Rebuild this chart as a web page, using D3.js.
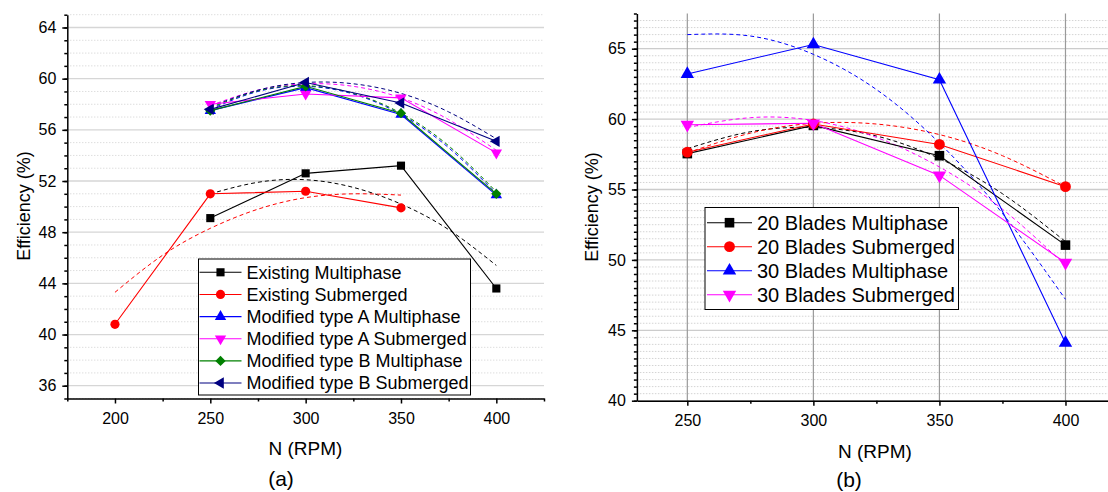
<!DOCTYPE html>
<html>
<head>
<meta charset="utf-8">
<script src="https://cdnjs.cloudflare.com/ajax/libs/d3/7.8.5/d3.min.js"></script>
<style>
  body { margin: 0; background: #fff; }
  svg { display: block; font-family: "Liberation Sans", Arial, sans-serif; }
</style>
</head>
<body>
<svg id="chart" width="1108" height="492"></svg>
<script>
// ---- data, panel (a) ----
var rpmA = [250, 300, 350, 400];
var rpmExistSub = [200, 250, 300, 350];
var existingMulti = [49.1, 52.6, 53.2, 43.6];
var existingSub = [40.8, 51.0, 51.2, 49.9];
var modAMulti = [57.5, 59.3, 57.2, 50.9];
var modASub = [58.0, 58.8, 58.5, 54.2];
var modBMulti = [57.5, 59.4, 57.3, 51.0];
var modBSub = [57.6, 59.7, 58.1, 55.1];

// dashed trend curves
var fitRpm = [250, 275, 300, 325, 350, 375, 400];
var fitRpmSub = [200, 225, 250, 275, 300, 325, 350];
var fitExistMulti = [51.0, 51.9, 52.1, 51.5, 50.2, 48.2, 45.4];
var fitExistSub = [43.3, 46.2, 48.3, 49.8, 50.7, 51.0, 50.9];
var fitModAMulti = [57.6, 59.0, 59.4, 58.8, 57.2, 54.6, 51.0];
var fitModASub = [57.9, 59.1, 59.6, 59.4, 58.5, 56.8, 54.4];
var fitModBMulti = [57.7, 59.05, 59.45, 58.85, 57.3, 54.75, 51.15];
var fitModBSub = [57.8, 59.1, 59.7, 59.6, 58.85, 57.4, 55.3];

var xTicksA = [200, 250, 300, 350, 400];
var yTicksA = [36, 40, 44, 48, 52, 56, 60, 64];

// ---- data, panel (b) ----
var rpmB = [250, 300, 350, 400];
var blades20Multi = [57.55, 59.55, 57.4, 51.05];
var blades20Sub = [57.65, 59.65, 58.2, 55.2];
var blades30Multi = [63.2, 65.3, 62.8, 44.1];
var blades30Sub = [59.6, 59.7, 56.0, 49.8];

var fit20Multi = [57.9, 59.1, 59.4, 58.8, 57.2, 54.7, 51.3];
var fit20Sub = [57.6, 59.0, 59.7, 59.65, 58.9, 57.4, 55.2];
var fit30Multi = [66.0, 65.9, 64.6, 62.1, 58.3, 53.3, 47.2];
var fit30Sub = [59.4, 60.1, 59.9, 58.7, 56.6, 53.6, 49.6];

var xTicksB = [250, 300, 350, 400];
var yTicksB = [40, 45, 50, 55, 60, 65];

var svg = d3.select("#chart");

var symbols = {
  square:  { type: d3.symbolSquare, rot: 0 },
  circle:  { type: d3.symbolCircle, rot: 0 },
  up:      { type: d3.symbolTriangle, rot: 0 },
  down:    { type: d3.symbolTriangle, rot: 180 },
  diamond: { type: d3.symbolSquare, rot: 45 },
  left:    { type: d3.symbolTriangle, rot: -90 }
};

function addMarker(g, name, size, cx, cy, color) {
  var s = symbols[name];
  var k = s.type === d3.symbolTriangle ? 0.85 : (name === "diamond" ? 0.8 : 1);
  g.append("path")
    .attr("d", d3.symbol().type(s.type).size(size * k)())
    .attr("transform", "translate(" + cx + "," + cy + ") rotate(" + s.rot + ")")
    .attr("fill", color);
}

function styleAxis(a, size) {
  a.selectAll("path, line").attr("stroke", "#000").attr("stroke-width", 1.5);
  a.selectAll("text").attr("font-size", size).attr("fill", "#000")
    .attr("font-family", "Liberation Sans, Arial, sans-serif");
}

function drawPanel(p) {
  var x = d3.scaleLinear().domain(p.xDomain).range(p.xRange);
  var y = d3.scaleLinear().domain(p.yDomain).range(p.yRange);
  var g = svg.append("g");

  // dotted minor grid
  g.append("g").selectAll("line").data(p.yMinorGrid).enter().append("line")
    .attr("x1", p.xRange[0]).attr("x2", p.xRange[1])
    .attr("y1", function(d) { return y(d); }).attr("y2", function(d) { return y(d); })
    .attr("stroke", p.minorColor).attr("stroke-width", 1)
    .attr("stroke-dasharray", p.minorDash);

  // major grid
  g.append("g").selectAll("line").data(p.yTicks).enter().append("line")
    .attr("x1", p.xRange[0]).attr("x2", p.xRange[1])
    .attr("y1", function(d) { return y(d); }).attr("y2", function(d) { return y(d); })
    .attr("stroke", p.hGridColor).attr("stroke-width", 1.3);

  if (p.vGrid) {
    g.append("g").selectAll("line").data(p.xTicks).enter().append("line")
      .attr("x1", function(d) { return x(d); }).attr("x2", function(d) { return x(d); })
      .attr("y1", p.yRange[0]).attr("y2", p.yRange[1])
      .attr("stroke", "#9a9a9a").attr("stroke-width", 1.2);
  }

  // dashed trend curves
  var curve = d3.line().curve(d3.curveNatural)
    .x(function(d) { return x(d[0]); }).y(function(d) { return y(d[1]); });
  var straight = d3.line()
    .x(function(d) { return x(d[0]); }).y(function(d) { return y(d[1]); });

  p.series.forEach(function(s) {
    g.append("path").datum(d3.zip(s.fx, s.fy))
      .attr("d", curve).attr("fill", "none")
      .attr("stroke", s.color).attr("stroke-width", 1)
      .attr("stroke-dasharray", "4,3");
  });

  p.series.forEach(function(s) {
    g.append("path").datum(d3.zip(s.x, s.y))
      .attr("d", straight).attr("fill", "none")
      .attr("stroke", s.color).attr("stroke-width", 1.1);
  });

  // axes
  var ax = g.append("g").attr("transform", "translate(0," + p.yRange[0] + ")")
    .call(d3.axisBottom(x).tickValues(p.xTicks).tickSize(5).tickSizeOuter(0).tickPadding(p.xPad));
  styleAxis(ax, 16);
  var axm = g.append("g").attr("transform", "translate(0," + p.yRange[0] + ")")
    .call(d3.axisBottom(x).tickValues(p.xMinor).tickSize(3).tickFormat(""));
  axm.select(".domain").remove();
  styleAxis(axm, 16);

  var ay = g.append("g").attr("transform", "translate(" + p.xRange[0] + ",0)")
    .call(d3.axisLeft(y).tickValues(p.yTicks).tickSize(5).tickSizeOuter(0).tickPadding(6));
  styleAxis(ay, 16);
  var aym = g.append("g").attr("transform", "translate(" + p.xRange[0] + ",0)")
    .call(d3.axisLeft(y).tickValues(p.yMinorTicks).tickSize(3).tickFormat(""));
  aym.select(".domain").remove();
  styleAxis(aym, 16);

  // markers
  p.series.forEach(function(s) {
    s.x.forEach(function(v, i) {
      addMarker(g, s.symbol, p.markerSize, x(v), y(s.y[i]), s.color);
    });
  });

  // titles
  g.append("text").attr("x", p.xTitle[0]).attr("y", p.xTitle[1])
    .attr("text-anchor", "middle").attr("font-size", 19).text("N (RPM)");
  g.append("text")
    .attr("transform", "translate(" + p.yTitle[0] + "," + p.yTitle[1] + ") rotate(-90)")
    .attr("text-anchor", "middle").attr("font-size", 18).text("Efficiency (%)");
  g.append("text").attr("x", p.label[0]).attr("y", p.label[1])
    .attr("text-anchor", "middle").attr("font-size", 21).text(p.labelText);

  // legend
  var L = p.legend;
  var lg = g.append("g");
  lg.append("rect").attr("x", L.box[0]).attr("y", L.box[1])
    .attr("width", L.box[2]).attr("height", L.box[3])
    .attr("fill", "#fff").attr("stroke", "#000").attr("stroke-width", 1);
  p.series.forEach(function(s, i) {
    var ry = L.rowY + i * L.rowStep;
    lg.append("line").attr("x1", L.line[0]).attr("x2", L.line[1])
      .attr("y1", ry).attr("y2", ry).attr("stroke", s.color).attr("stroke-width", 1.1);
    addMarker(lg, s.symbol, p.markerSize, (L.line[0] + L.line[1]) / 2, ry, s.color);
    lg.append("text").attr("x", L.textX).attr("y", ry).attr("dy", "0.35em")
      .attr("font-size", L.font).attr("fill", "#000").text(s.name);
  });
}

drawPanel({
  xDomain: [175, 425], xRange: [67.3, 544],
  yDomain: [35, 65], yRange: [398.5, 14.7],
  xTicks: xTicksA, xMinor: [175, 225, 275, 325, 375, 425], xPad: 9.5,
  yTicks: yTicksA, yMinorTicks: d3.range(35, 65.01, 1),
  yMinorGrid: d3.range(35, 65.01, 1).filter(function(v) { return (v % 4) !== 0; }),
  minorColor: "#cfcfcf", minorDash: "1,2", hGridColor: "#d6d6d6", vGrid: false,
  markerSize: 66,
  xTitle: [305.5, 455], yTitle: [30, 206], label: [281, 486], labelText: "(a)",
  series: [
    { name: "Existing Multiphase", x: rpmA, y: existingMulti, color: "#000000", symbol: "square", fx: fitRpm, fy: fitExistMulti },
    { name: "Existing Submerged", x: rpmExistSub, y: existingSub, color: "#ff0000", symbol: "circle", fx: fitRpmSub, fy: fitExistSub },
    { name: "Modified type A Multiphase", x: rpmA, y: modAMulti, color: "#0000ff", symbol: "up", fx: fitRpm, fy: fitModAMulti },
    { name: "Modified type A Submerged", x: rpmA, y: modASub, color: "#ff00ff", symbol: "down", fx: fitRpm, fy: fitModASub },
    { name: "Modified type B Multiphase", x: rpmA, y: modBMulti, color: "#008000", symbol: "diamond", fx: fitRpm, fy: fitModBMulti },
    { name: "Modified type B Submerged", x: rpmA, y: modBSub, color: "#000080", symbol: "left", fx: fitRpm, fy: fitModBSub }
  ],
  legend: { box: [198.5, 259, 272, 136], rowY: 272.3, rowStep: 22.15, line: [199.5, 241.5], textX: 246.5, font: 18 }
});

drawPanel({
  xDomain: [230, 420], xRange: [636.9, 1115.9],
  yDomain: [40, 67.5], yRange: [400.7, 13.5],
  xTicks: xTicksB, xMinor: [275, 325, 375], xPad: 8.5,
  yTicks: yTicksB, yMinorTicks: d3.range(40, 67.51, 0.5),
  yMinorGrid: d3.range(40.5, 67.01, 0.5).filter(function(v) { return (v % 5) !== 0; }),
  minorColor: "#d4d4d4", minorDash: "1.5,1.5", hGridColor: "#cccccc", vGrid: true,
  markerSize: 92,
  xTitle: [875, 458], yTitle: [598, 207], label: [849, 487], labelText: "(b)",
  series: [
    { name: "20 Blades Multiphase", x: rpmB, y: blades20Multi, color: "#000000", symbol: "square", fx: fitRpm, fy: fit20Multi },
    { name: "20 Blades Submerged", x: rpmB, y: blades20Sub, color: "#ff0000", symbol: "circle", fx: fitRpm, fy: fit20Sub },
    { name: "30 Blades Multiphase", x: rpmB, y: blades30Multi, color: "#0000ff", symbol: "up", fx: fitRpm, fy: fit30Multi },
    { name: "30 Blades Submerged", x: rpmB, y: blades30Sub, color: "#ff00ff", symbol: "down", fx: fitRpm, fy: fit30Sub }
  ],
  legend: { box: [705, 207.5, 253.5, 102], rowY: 222.7, rowStep: 24, line: [707, 752], textX: 757, font: 20 }
});
</script>
</body>
</html>
